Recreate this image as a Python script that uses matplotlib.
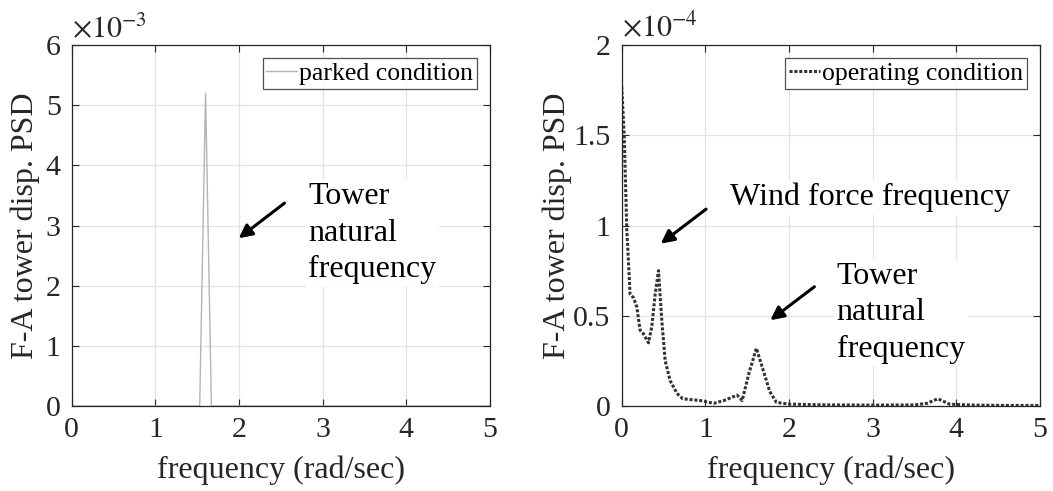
import matplotlib
matplotlib.use("Agg")
import matplotlib.pyplot as plt
from matplotlib.ticker import FuncFormatter

plt.rcParams['font.family'] = ['Liberation Serif', 'DejaVu Serif']
plt.rcParams['mathtext.fontset'] = 'stix'

# Parked condition (left)
freq_parked = [0.0, 0.5, 1.0, 1.45, 1.53, 1.60, 1.67, 1.75, 2.5, 3.5, 5.0]
psd_parked = [0.0, 0.0, 0.0, 0.0, 0.0, 5.2e-3, 0.0, 0.0, 0.0, 0.0, 0.0]

# Operating condition (right)
freq_oper = [0.0, 0.03, 0.06, 0.10, 0.14, 0.18, 0.22, 0.26, 0.32, 0.36, 0.40, 0.44,
             0.48, 0.52, 0.58, 0.66, 0.73, 0.94, 1.10, 1.22, 1.38, 1.44, 1.52, 1.61,
             1.69, 1.77, 1.85, 2.01, 2.5, 3.0, 3.5, 3.65, 3.78, 3.92, 4.2, 4.6, 5.0]
psd_oper = [1.77e-4, 1.50e-4, 0.99e-4, 0.62e-4, 0.60e-4, 0.55e-4, 0.42e-4, 0.40e-4,
            0.35e-4, 0.44e-4, 0.62e-4, 0.75e-4, 0.47e-4, 0.25e-4, 0.14e-4, 0.07e-4,
            0.04e-4, 0.03e-4, 0.015e-4, 0.03e-4, 0.06e-4, 0.03e-4, 0.18e-4, 0.32e-4,
            0.20e-4, 0.08e-4, 0.02e-4, 0.01e-4, 0.006e-4, 0.005e-4, 0.006e-4, 0.015e-4,
            0.04e-4, 0.01e-4, 0.005e-4, 0.003e-4, 0.003e-4]

x_ticks = [0, 1, 2, 3, 4, 5]
y_ticks_left = [0, 1e-3, 2e-3, 3e-3, 4e-3, 5e-3, 6e-3]
y_ticks_right = [0, 0.5e-4, 1e-4, 1.5e-4, 2e-4]

fig = plt.figure(figsize=(10.53, 4.91), dpi=100)
W, H = 1053, 491
axL = fig.add_axes([71.7 / W, 1 - 406 / H, (490 - 71.7) / W, (406 - 45) / H])
axR = fig.add_axes([621.7 / W, 1 - 406 / H, (1040 - 621.7) / W, (406 - 45) / H])

TFS = 21.5
LFS = 23
axL.plot(freq_parked, psd_parked, color='#b4b4b4', lw=1.0, label='parked condition')
axR.plot(freq_oper, psd_oper, color='#333333', lw=2.2, ls=(0, (1, 0.6)), label='operating condition')

def style(ax, yticks, scale, expo, ylab_x):
    ax.set_xlim(0, 5)
    ax.set_ylim(yticks[0], yticks[-1])
    ax.set_xticks(x_ticks)
    ax.set_yticks(yticks)
    ax.yaxis.set_major_formatter(FuncFormatter(lambda v, p: f"{v/scale:g}"))
    ax.grid(True, color='#e3e3e3', lw=0.9)
    ax.set_axisbelow(True)
    ax.tick_params(direction='in', top=True, right=True, labelsize=TFS, colors='#262626',
                   length=5, width=0.8, pad=8)
    ax.tick_params(axis='x', pad=8)
    for s in ax.spines.values():
        s.set_color('#262626')
        s.set_linewidth(0.9)
    ax.set_xlabel('frequency (rad/sec)', fontsize=LFS, color='#262626')
    ax.set_ylabel('F-A tower disp. PSD', fontsize=LFS, color='#262626')
    ax.xaxis.label.set_va('center')
    ax.yaxis.label.set_va('center')
    ax.xaxis.set_label_coords(0.5, -0.177)
    ax.yaxis.set_label_coords(ylab_x, 0.5)
    ax.text(0.0, 1.005, r'$\times10^{' + expo + '}$', transform=ax.transAxes,
            fontsize=TFS, color='#262626', ha='left', va='bottom')
    leg = ax.legend(loc='upper right', fontsize=18.5, frameon=True, fancybox=False,
                    handlelength=1.2, handletextpad=0.08, borderpad=0.15,
                    borderaxespad=0.5)
    leg.get_frame().set_edgecolor('#262626')
    leg.get_frame().set_linewidth(0.9)

style(axL, y_ticks_left, 1e-3, '-3', (25 - 71.7) / 418.3)
style(axR, y_ticks_right, 1e-4, '-4', (557 - 621.7) / 418.3)

arrow = dict(arrowstyle='-|>,head_length=0.8,head_width=0.4', color='black', lw=2.2)
bbox = dict(facecolor='white', edgecolor='none', pad=2)
axL.annotate('', xy=(1.97, 2.76e-3), xytext=(2.57, 3.40e-3), arrowprops=arrow)
axL.text(2.83, 3.72e-3, 'Tower\nnatural\nfrequency', fontsize=23, va='top', ha='left',
         linespacing=1.34, bbox=bbox)

axR.annotate('', xy=(0.44, 0.89e-4), xytext=(1.035, 1.10e-4), arrowprops=arrow)
axR.text(1.29, 1.155e-4, 'Wind force frequency', fontsize=23, va='center', ha='left',
         bbox=bbox)
axR.annotate('', xy=(1.75, 0.466e-4), xytext=(2.33, 0.67e-4), arrowprops=arrow)
axR.text(2.57, 0.80e-4, 'Tower\nnatural\nfrequency', fontsize=23, va='top', ha='left',
         linespacing=1.34, bbox=bbox)

fig.savefig('out.png', dpi=100)
